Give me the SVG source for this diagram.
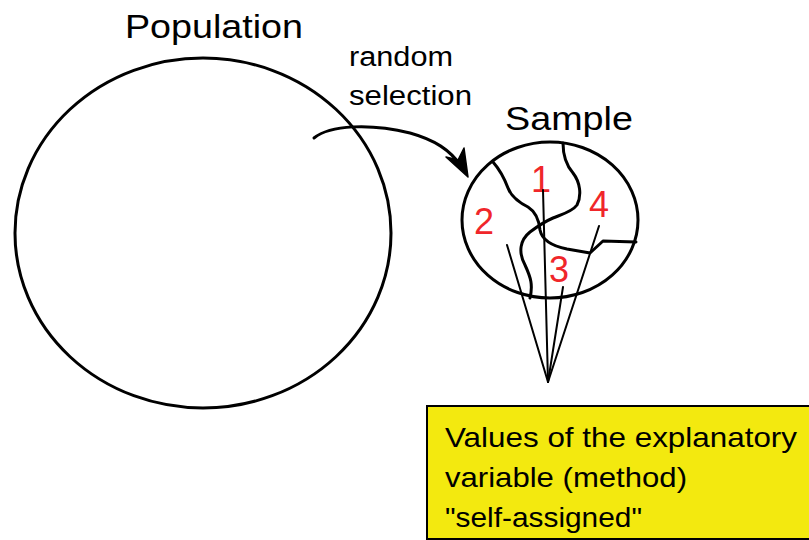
<svg xmlns="http://www.w3.org/2000/svg" width="809" height="540" viewBox="0 0 809 540">
<style>
.ln{fill:none;stroke:#000;stroke-width:3;stroke-linecap:round;stroke-linejoin:round}
.thin{fill:none;stroke:#000;stroke-width:2;stroke-linecap:round}
.t{font-family:"Liberation Sans",Arial,sans-serif;fill:#000}
.num{font-family:"Liberation Sans",Arial,sans-serif;fill:#f0262a;font-size:36px}
</style>
<rect width="809" height="540" fill="#fff"/>
<g id="population">
<ellipse class="ln" cx="203" cy="233" rx="188" ry="175"/>
<text class="t" x="125" y="38" font-size="33" textLength="178" lengthAdjust="spacingAndGlyphs">Population</text>
</g>
<g id="sample">
<ellipse class="ln" cx="550" cy="220" rx="88" ry="78"/>
<text class="t" x="505" y="130" font-size="33" textLength="128" lengthAdjust="spacingAndGlyphs">Sample</text>
<path class="ln" d="M493,162 C500,170 505,180 508,188 C511,196 520,203 528,207 C536,212 539,220 540,230 C542,240 552,246 567,249 L590,253 L603,241 L636,242"/>
<path class="ln" d="M563,143 C563,155 566,165 573,173 C580,182 582,195 577,205 C572,212 560,215 553,218 C546,221 538,226 530,232 C520,240 518,252 525,265 C531,278 533,285 530,298"/>
<text class="num" x="531" y="192">1</text>
<text class="num" x="474" y="234">2</text>
<text class="num" x="549" y="282">3</text>
<text class="num" x="589" y="217">4</text>
</g>
<g id="connectors">
<path class="ln" d="M314,138 C330,125 370,123 410,133 C435,140 450,150 461,166"/>
<polygon points="468,177 446,157 458,160 464,148" fill="#000" stroke="#000" stroke-width="1.5" stroke-linejoin="round"/>
<text class="t" x="349" y="66" font-size="27" textLength="104" lengthAdjust="spacingAndGlyphs">random</text>
<text class="t" x="349" y="105" font-size="27" textLength="123" lengthAdjust="spacingAndGlyphs">selection</text>
<line class="thin" x1="543" y1="190" x2="548" y2="382"/>
<line class="thin" x1="507" y1="245" x2="548" y2="382"/>
<line class="thin" x1="563" y1="287" x2="548" y2="382"/>
<line class="thin" x1="599" y1="226" x2="548" y2="382"/>
</g>
<g id="note">
<rect x="427" y="406" width="400" height="133" fill="#f3e90f" stroke="#000" stroke-width="2"/>
<text class="t" x="445" y="447" font-size="28" textLength="352" lengthAdjust="spacingAndGlyphs">Values of the explanatory</text>
<text class="t" x="445" y="487" font-size="28" textLength="242" lengthAdjust="spacingAndGlyphs">variable (method)</text>
<text class="t" x="445" y="527" font-size="28" textLength="197" lengthAdjust="spacingAndGlyphs">"self-assigned"</text>
</g>
</svg>
